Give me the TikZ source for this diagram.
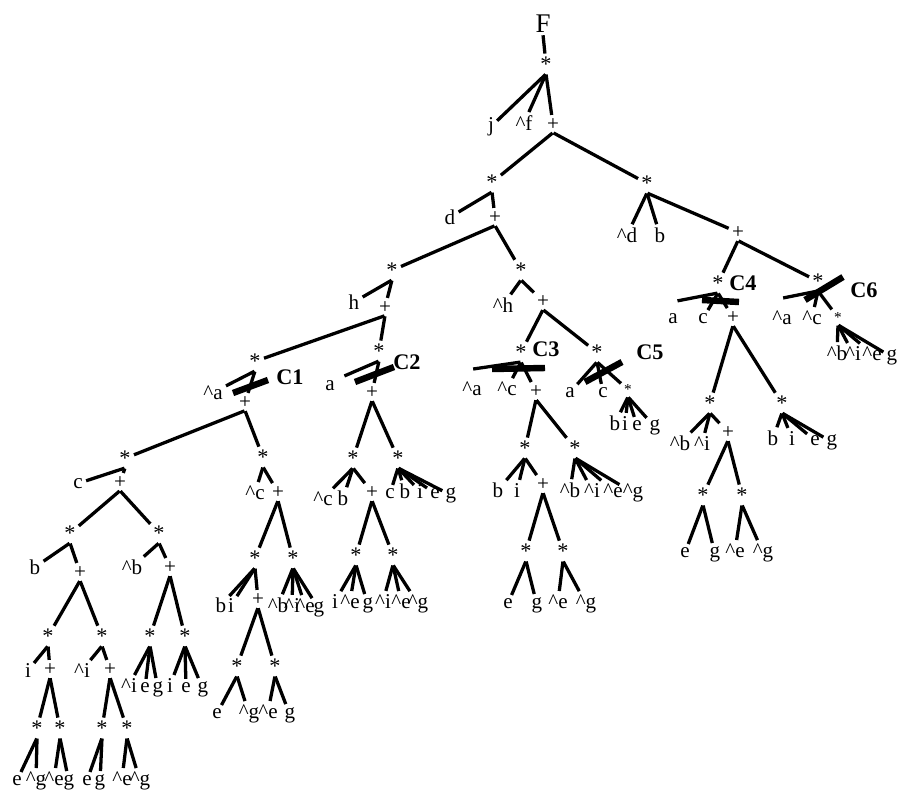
\documentclass[tikz,border=0pt]{standalone}
\usepackage{fontspec}
\setmainfont{Liberation Serif}
\newcommand{\cmpl}[1]{\textasciicircum#1}
\begin{document}
\begin{tikzpicture}[x=0.03cm,y=-0.03cm,
  lab/.style={inner sep=1.8pt, anchor=base, yshift=-0.16cm, font=\fontsize{18}{20}\selectfont},
  pl/.style={lab},
  op/.style={lab, yshift=-0.31cm, font=\fontsize{19}{20}\selectfont},
  sop/.style={lab, yshift=-0.22cm, font=\fontsize{13}{14}\selectfont},
  cut/.style={inner sep=0pt, font=\fontsize{19}{20}\selectfont\bfseries},
  edge/.style={line width=2.8pt, shorten <=0.5pt, shorten >=1pt},
  bar/.style={line width=5.5pt}]
\useasboundingbox (0,0) rectangle (900,794);

% ---- upper spine ----
\node[lab, yshift=-0.06cm, font=\fontsize{23}{24}\selectfont] (F) at (543,25) {F};
\node[op] (r) at (546,56) {*};
\node[lab] (j) at (491,126) {j};
\node[lab] (nf) at (524,125) {\cmpl{f}};
\node[pl] (p1) at (553,125) {+};
\node[op] (m1) at (492,174) {*};
\node[op] (m2) at (647,175) {*};
\node[lab] (d) at (450,219) {d};
\node[pl] (p2) at (495,218) {+};
\node[op] (m3) at (392,262) {*};
\node[op] (m4) at (521,262) {*};
\node[lab] (h) at (354,304) {h};
\node[pl] (p3) at (385,308) {+};
\node[op] (s1) at (255,353) {*};
\node[op] (s2) at (379,343) {*};

% ---- C1 branch ----
\node[lab] (na1) at (213,394) {\cmpl{a}};
\node[pl] (p4) at (245,403) {+};
\node[cut] at (290,377) {C1};
\node[op] (m5) at (125,450) {*};
\node[op] (m6) at (263,449) {*};
\node[lab] (c5) at (78,483) {c};
\node[pl] (p6) at (120,483) {+};
\node[op] (m7) at (70,525) {*};
\node[op] (m8) at (159,525) {*};
\node[lab] (b7) at (35,569) {b};
\node[pl] (p7) at (80,573) {+};
\node[lab] (nb8) at (132,569) {\cmpl{b}};
\node[pl] (p8) at (170,568) {+};
\node[op] (m9) at (48,628) {*};
\node[op] (m10) at (102,628) {*};
\node[lab] (i9) at (28,672) {i};
\node[pl] (p9) at (50,670) {+};
\node[lab] (ni10) at (82,672) {\cmpl{i}};
\node[pl] (p10) at (110,670) {+};
\node[op] (m11) at (37,720) {*};
\node[op] (m12) at (60,720) {*};
\node[op] (m13) at (102,720) {*};
\node[op] (m14) at (127,720) {*};
\node[lab] (l11a) at (17,780) {e};
\node[lab] (l11b) at (36,780) {\cmpl{g}};
\node[lab] (l12a) at (54,780) {\cmpl{e}};
\node[lab] (l12b) at (69,780) {g};
\node[lab] (l13a) at (87,780) {e};
\node[lab] (l13b) at (100,780) {g};
\node[lab] (l14a) at (122,780) {\cmpl{e}};
\node[lab] (l14b) at (140,780) {\cmpl{g}};
\node[op] (m15) at (150,628) {*};
\node[op] (m16) at (185,628) {*};
\node[lab] (l15a) at (129,687) {\cmpl{i}};
\node[lab] (l15b) at (145,687) {e};
\node[lab] (l15c) at (158,687) {g};
\node[lab] (l16a) at (170,687) {i};
\node[lab] (l16b) at (186,687) {e};
\node[lab] (l16c) at (203,687) {g};
\node[lab] (nc6) at (255,494) {\cmpl{c}};
\node[pl] (p11) at (278,493) {+};
\node[op] (m17) at (255,550) {*};
\node[op] (m18) at (293,550) {*};
\node[lab] (l17a) at (221,607) {b};
\node[lab] (l17b) at (231,607) {i};
\node[pl] (p12) at (258,600) {+};
\node[lab] (l18a) at (278,607) {\cmpl{b}};
\node[lab] (l18b) at (292,607) {\cmpl{i}};
\node[lab] (l18c) at (305,607) {\cmpl{e}};
\node[lab] (l18d) at (319,607) {g};
\node[op] (m19) at (237,658) {*};
\node[op] (m20) at (275,658) {*};
\node[lab] (l19a) at (217,713) {e};
\node[lab] (l19b) at (249,713) {\cmpl{g}};
\node[lab] (l20a) at (268,713) {\cmpl{e}};
\node[lab] (l20b) at (290,713) {g};

% ---- C2 branch ----
\node[lab] (a2) at (330,385) {a};
\node[pl] (p5) at (372,393) {+};
\node[cut] at (407,362) {C2};
\node[op] (m21) at (353,450) {*};
\node[op] (m22) at (398,450) {*};
\node[lab] (nc21) at (323,500) {\cmpl{c}};
\node[lab] (b21) at (343,500) {b};
\node[pl] (p13) at (372,493) {+};
\node[lab] (l22a) at (390,493) {c};
\node[lab] (l22b) at (405,493) {b};
\node[lab] (l22c) at (420,493) {i};
\node[lab] (l22d) at (435,493) {e};
\node[lab] (l22e) at (451,493) {g};
\node[op] (m23) at (356,547) {*};
\node[op] (m24) at (393,547) {*};
\node[lab] (l23a) at (335,603) {i};
\node[lab] (l23b) at (350,603) {\cmpl{e}};
\node[lab] (l23c) at (368,603) {g};
\node[lab] (l24a) at (383,603) {\cmpl{i}};
\node[lab] (l24b) at (401,603) {\cmpl{e}};
\node[lab] (l24c) at (418,603) {\cmpl{g}};

% ---- C3 / C5 branch ----
\node[lab] (nh) at (503,307) {\cmpl{h}};
\node[pl] (p14) at (543,302) {+};
\node[op] (s3) at (521,344) {*};
\node[cut] at (546,349) {C3};
\node[op] (s5) at (597,344) {*};
\node[lab] (na3) at (472,390) {\cmpl{a}};
\node[lab] (nc3) at (507,390) {\cmpl{c}};
\node[pl] (p15) at (536,392) {+};
\node[op] (m25) at (525,440) {*};
\node[op] (m26) at (575,440) {*};
\node[lab] (l25a) at (498,492) {b};
\node[lab] (l25b) at (517,492) {i};
\node[pl] (p16) at (543,485) {+};
\node[lab] (l26a) at (570,492) {\cmpl{b}};
\node[lab] (l26b) at (592,492) {\cmpl{i}};
\node[lab] (l26c) at (613,492) {\cmpl{e}};
\node[lab] (l26d) at (633,492) {\cmpl{g}};
\node[op] (m27) at (526,543) {*};
\node[op] (m28) at (563,543) {*};
\node[lab] (l27a) at (508,603) {e};
\node[lab] (l27b) at (537,603) {g};
\node[lab] (l28a) at (558,603) {\cmpl{e}};
\node[lab] (l28b) at (586,603) {\cmpl{g}};
\node[lab] (a5) at (570,392) {a};
\node[lab] (c5b) at (603,392) {c};
\node[sop] (m29) at (628,382) {*};
\node[cut] at (650,352) {C5};
\node[lab] (l29a) at (615,425) {b};
\node[lab] (l29b) at (625,425) {i};
\node[lab] (l29c) at (637,425) {e};
\node[lab] (l29d) at (655,425) {g};

% ---- right branch: C4 / C6 ----
\node[lab] (nd) at (627,237) {\cmpl{d}};
\node[lab] (h2) at (660,237) {b};
\node[pl] (p17) at (738,233) {+};
\node[op] (s4) at (718,275) {*};
\node[op] (s6) at (818,273) {*};
\node[cut] at (743,283) {C4};
\node[cut] at (864,290) {C6};
\node[lab] (a4) at (673,318) {a};
\node[lab] (c4) at (703,318) {c};
\node[pl] (p18) at (733,318) {+};
\node[lab] (na6) at (782,319) {\cmpl{a}};
\node[lab] (nc6b) at (812,319) {\cmpl{c}};
\node[sop] (m30) at (838,310) {*};
\node[lab] (l30a) at (837,355) {\cmpl{b}};
\node[lab] (l30b) at (853,355) {\cmpl{i}};
\node[lab] (l30c) at (872,355) {\cmpl{e}};
\node[lab] (l30d) at (892,355) {g};
\node[op] (m31) at (710,395) {*};
\node[op] (m32) at (782,395) {*};
\node[lab] (l31a) at (680,445) {\cmpl{b}};
\node[lab] (l31b) at (702,445) {\cmpl{i}};
\node[pl] (p19) at (728,433) {+};
\node[lab] (l32a) at (773,440) {b};
\node[lab] (l32b) at (792,440) {i};
\node[lab] (l32c) at (815,440) {e};
\node[lab] (l32d) at (832,440) {g};
\node[op] (m33) at (703,487) {*};
\node[op] (m34) at (742,487) {*};
\node[lab] (l33a) at (685,552) {e};
\node[lab] (l33b) at (715,552) {g};
\node[lab] (l34a) at (735,552) {\cmpl{e}};
\node[lab] (l34b) at (763,552) {\cmpl{g}};

% ---- tree edges ----
\foreach \u/\v in {F/r, r/j, r/nf, r/p1, p1/m1, p1/m2, m1/d, m1/p2, p2/m3, p2/m4,
  m3/h, m3/p3, p3/s1, p3/s2, s1/na1, s1/p4, p4/m5, p4/m6, m5/c5, m5/p6,
  p6/m7, p6/m8, m7/b7, m7/p7, m8/nb8, m8/p8, p7/m9, p7/m10, m9/i9, m9/p9,
  m10/ni10, m10/p10, p9/m11, p9/m12, p10/m13, p10/m14,
  m11/l11a, m11/l11b, m12/l12a, m12/l12b, m13/l13a, m13/l13b, m14/l14a, m14/l14b,
  p8/m15, p8/m16, m15/l15a, m15/l15b, m15/l15c, m16/l16a, m16/l16b, m16/l16c,
  m6/nc6, m6/p11, p11/m17, p11/m18, m17/l17a, m17/l17b, m17/p12,
  m18/l18a, m18/l18b, m18/l18c, m18/l18d, p12/m19, p12/m20,
  m19/l19a, m19/l19b, m20/l20a, m20/l20b,
  s2/p5, p5/m21, p5/m22, m21/nc21, m21/b21, m21/p13,
  m22/l22a, m22/l22b, m22/l22c, m22/l22d, m22/l22e, p13/m23, p13/m24,
  m23/l23a, m23/l23b, m23/l23c, m24/l24a, m24/l24b, m24/l24c,
  m4/nh, m4/p14, p14/s3, p14/s5, s3/nc3, s3/p15, p15/m25, p15/m26,
  m25/l25a, m25/l25b, m25/p16, m26/l26a, m26/l26b, m26/l26c, m26/l26d,
  p16/m27, p16/m28, m27/l27a, m27/l27b, m28/l28a, m28/l28b,
  s5/a5, s5/c5b, s5/m29, m29/l29a, m29/l29b, m29/l29c, m29/l29d,
  m2/nd, m2/h2, m2/p17, p17/s4, p17/s6, s4/c4, s4/p18,
  p18/m31, p18/m32, m31/l31a, m31/l31b, m31/p19,
  m32/l32a, m32/l32b, m32/l32c, m32/l32d, p19/m33, p19/m34,
  m33/l33a, m33/l33b, m34/l34a, m34/l34b,
  s6/nc6b, s6/m30, m30/l30a, m30/l30b, m30/l30c, m30/l30d}
  \draw[edge] (\u.south) -- (\v);

% shallow branches that stop well above their leaf
\draw[edge] (s2.south) -- ([xshift=0.4cm,yshift=0.05cm]a2.north);
\draw[edge] (s3.south) -- ([yshift=0.3cm]na3.north);
\draw[edge] (s4.south) -- ([xshift=0.1cm,yshift=0.3cm]a4.north);
\draw[edge] (s6.south) -- ([yshift=0.3cm]na6.north);

% ---- cut marks ----
\draw[bar] (233,393) -- (268,380);
\draw[bar] (355,382) -- (394,367);
\draw[bar] (492,369) -- (545,368);
\draw[bar] (585,382) -- (622,362);
\draw[bar] (702,300) -- (739,302);
\draw[bar] (805,300) -- (843,277);
\end{tikzpicture}
\end{document}
